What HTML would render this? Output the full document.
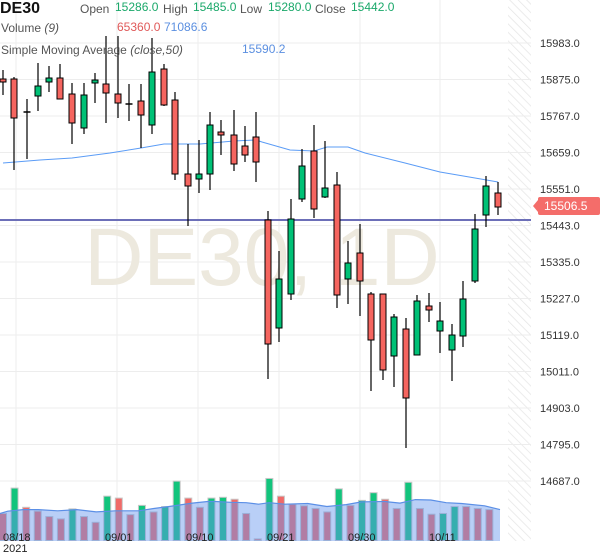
<!DOCTYPE html>
<html><head><meta charset="utf-8"><style>
body{margin:0;background:#fff;font-family:"Liberation Sans",sans-serif}
svg{display:block}
</style></head><body>
<svg id="c" width="600" height="558" viewBox="0 0 600 558" xmlns="http://www.w3.org/2000/svg" font-family="Liberation Sans, sans-serif">
<defs><pattern id="h" width="6" height="6" patternUnits="userSpaceOnUse" patternTransform="rotate(-45)"><line x1="0" y1="0" x2="0" y2="6" stroke="#e6e6e6" stroke-width="1.5"/></pattern></defs>
<rect x="508" y="0" width="23" height="541" fill="url(#h)"/>
<g id="grid" stroke="#ededed" stroke-width="1"></g>
<text x="262" y="285" font-size="82" fill="#ede9de" text-anchor="middle">DE30, 1D</text>
<g id="vol"></g>
<path id="ma" fill="none" stroke="#5b9cf6" stroke-width="1"/>
<line x1="0" y1="220" x2="531" y2="220" stroke="#6c6fb8" stroke-width="2"/>
<g id="cd"></g>
<g id="ax" font-size="11" fill="#333"></g>
<rect x="538" y="197" width="62" height="18" rx="2" fill="#f46d6a"/>
<path d="M538 200 L533 206 L538 212Z" fill="#f46d6a"/>
<text x="544" y="210" font-size="12" fill="#fff">15506.5</text>
<g font-size="12" fill="#555">
<text x="0" y="13" font-size="16" font-weight="bold" fill="#111">DE30</text>
<text x="80" y="13">Open</text><text x="115" y="11" fill="#1aa86a">15286.0</text>
<text x="163" y="13">High</text><text x="193" y="11" fill="#1aa86a">15485.0</text>
<text x="240" y="13">Low</text><text x="268" y="11" fill="#1aa86a">15280.0</text>
<text x="315" y="13">Close</text><text x="351" y="11" fill="#1aa86a">15442.0</text>
<text x="1" y="32">Volume <tspan font-style="italic">(9)</tspan></text>
<text x="117" y="31" fill="#e05a5a">65360.0</text><text x="164" y="31" fill="#5b8fe0">71086.6</text>
<text x="1" y="54">Simple Moving Average <tspan font-style="italic">(close,50)</tspan></text>
<text x="242" y="53" fill="#5b8fe0">15590.2</text>
</g>
<g font-size="11" fill="#222">
<text x="3" y="541">08/18</text><text x="3" y="552">2021</text>
<text x="105" y="541">09/01</text><text x="186" y="541">09/10</text>
<text x="267" y="541">09/21</text><text x="348" y="541">09/30</text>
<text x="429" y="541">10/11</text>
</g>
</svg>
<script>
const NS="http://www.w3.org/2000/svg";
function el(p,t,a){const e=document.createElementNS(NS,t);for(const k in a)e.setAttribute(k,a[k]);p.appendChild(e);return e;}
const grid=document.getElementById('grid'),ax=document.getElementById('ax');
for(let i=0;i<13;i++){const y=43+i*36.5;el(grid,'line',{x1:0,x2:531,y1:y,y2:y});
 const t=el(ax,'text',{x:540,y:y+4});t.textContent=(15983-108*i).toFixed(1);}
[16,117,198,279,360,440].forEach(x=>el(grid,'line',{x1:x,x2:x,y1:0,y2:530}));
const C=[[3,'r',79,82,70,95],[14,'r',79,118,77,170],[27,'d',112,112,99,159],[38,'g',86,96,63,111],[49,'g',78,82,66,92],
[60,'r',78,99,64,99],[72,'r',94,123,83,144],[84,'g',95,128,83,134],[95,'g',80,83,73,103],[106,'r',84,93,36,123],
[118,'r',94,103,36,118],[129,'d',104,104,84,121],[141,'r',101,115,84,148],[152,'g',72,125,38,134],[164,'r',69,105,64,106],
[175,'r',100,174,92,180],[188,'r',174,186,144,226],[199,'g',174,179,140,193],[210,'g',125,174,112,190],[221,'r',132,135,120,155],
[234,'r',135,164,110,171],[245,'r',146,155,126,162],[256,'r',137,162,112,182],[268,'r',220,344,211,379],[279,'g',279,328,251,342],
[291,'g',219,294,199,300],[302,'g',166,199,149,202],[314,'r',151,209,125,218],[325,'g',188,197,141,198],[337,'r',185,295,172,308],
[348,'g',263,279,241,304],[360,'r',253,281,224,316],[371,'r',294,340,292,391],[383,'r',294,370,294,380],[394,'g',317,356,314,387],
[406,'r',329,398,318,448],[417,'g',301,355,295,355],[429,'r',306,310,293,322],[440,'g',321,331,302,353],[452,'g',335,350,324,381],
[463,'g',299,336,281,347],[475,'g',229,281,214,283],[486,'g',186,215,176,227],[498,'r',193,207,182,215]];
const cd=document.getElementById('cd');
C.forEach(([x,c,bt,bb,wt,wb])=>{
 el(cd,'line',{x1:x,x2:x,y1:wt,y2:wb,stroke:'#000','stroke-width':1.2});
 if(c==='d')el(cd,'line',{x1:x-3.5,x2:x+3.5,y1:bt,y2:bt,stroke:'#000','stroke-width':1.5});
 else el(cd,'rect',{x:x-3,y:bt,width:6,height:Math.max(bb-bt,2),fill:c==='g'?'#00c176':'#f5655f',stroke:'#000','stroke-width':1});
});
const vt=[113,47,97,107,121,127,101,121,136,68,73,116,92,109,95,29,73,97,73,71,76,113,179,22,68,89,93,100,109,49,92,79,59,76,100,32,100,115,113,95,95,100,103];
const vc='rgrrrrgrrgrrgrggrrggrrrgrrrrrgrggrrgrrggrrr';
const base=540.5,vol=document.getElementById('vol');
vt.forEach((t,i)=>{const x=3+i*11.58,y=t/2.6+470;const g=vc[i]==='g';
 el(vol,'rect',{x:x-3.5,y:y,width:7,height:base-y,fill:g?'#12c47c':'#f06a68',stroke:'#c8c8c8','stroke-width':1});});
const vm=[[0,113],[20,107],[60,103],[100,103],[150,106],[200,103],[250,109],[300,106],[360,106],[400,100],[440,95],[500,86],[540,82],[560,82],[600,84],[640,85],[672,89],[700,85],[740,89],[800,87],[850,95],[900,90],[940,83],[1000,82],[1040,86],[1080,77],[1120,78],[1160,85],[1200,87],[1260,93],[1300,103]];
let d='M'+vm.map(p=>(p[0]/2.6).toFixed(1)+' '+(p[1]/2.6+470).toFixed(1)).join(' L');
el(vol,'path',{d:d+' L500 541 L0 541Z',fill:'rgba(100,149,237,0.45)'});
el(vol,'path',{d:d,fill:'none',stroke:'#5b8fe6','stroke-width':1.2});
document.getElementById('ma').setAttribute('d','M3 163 L40 160 L72 158 L110 153 L141 148 L164 144 L200 144 L234 141 L256 140 L262 142 L290 150 L314 151 L327 147 L348 147 L365 153 L405 163 L440 172 L475 178 L498 182');
</script>
</body></html>
